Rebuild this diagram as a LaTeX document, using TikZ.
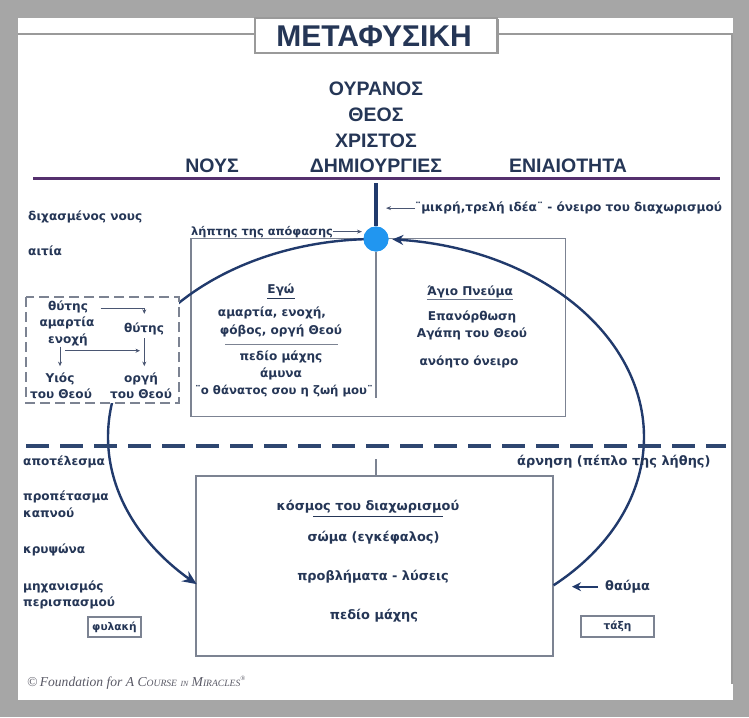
\documentclass[tikz,border=0pt]{standalone}
\usepackage{fontspec}
\setmainfont{DejaVu Sans}
\newfontfamily\hdfont{Liberation Sans}
\newfontfamily\cpfont{Liberation Serif}
\usetikzlibrary{arrows.meta}
\definecolor{navy}{HTML}{253656}
\definecolor{bggray}{HTML}{A6A6A6}
\definecolor{framegray}{HTML}{9A9A9A}
\definecolor{boxgray}{HTML}{7C8392}
\definecolor{purp}{HTML}{55306E}
\definecolor{dashnavy}{HTML}{2E4670}
\definecolor{cblue}{HTML}{2196F0}
\definecolor{curvenavy}{HTML}{213A6C}
\definecolor{arrgray}{HTML}{4A5672}
\definecolor{cpgray}{HTML}{5A5A66}
\begin{document}
\begin{tikzpicture}[x=1pt,y=-1pt,
  lbl/.style={font=\bfseries\fontsize{12.1}{14}\selectfont, text=navy, inner sep=0pt},
  lblc/.style={lbl, anchor=base},
  lblw/.style={lbl, anchor=base west},
  biglbl/.style={font=\bfseries\fontsize{12.9}{15}\selectfont},
  smlbl/.style={font=\bfseries\fontsize{11.4}{13}\selectfont},
  hdr/.style={font=\hdfont\bfseries\fontsize{19.5}{22}\selectfont, text=navy, inner sep=0pt, anchor=base},
  graybox/.style={draw=boxgray, line width=1.6pt},
  smallbox/.style={draw=boxgray, line width=1.2pt, fill=white, inner sep=0pt, font=\bfseries\fontsize{10.6}{12}\selectfont, text=navy},
  darrow/.style={draw=arrgray, line width=1pt, -{Stealth[length=4.5pt,width=4pt]}},
  larrow/.style={draw=arrgray, line width=1pt, -{Stealth[length=5pt,width=4pt]}},
  curve/.style={draw=curvenavy, line width=2.4pt}
]
\useasboundingbox (0,0) rectangle (749,717);
\fill[bggray] (0,0) rectangle (749,717);
\fill[white] (18,18) rectangle (733,700);
% frame
\draw[framegray, line width=1.2pt] (18,34) -- (732,34) -- (732,684);

% title
\fill[gray!80] (256.5,19.5) rectangle (499,54.5);
\node[draw=framegray, line width=1.2pt, fill=white, minimum width=242, minimum height=35, inner sep=0pt] (titlebox) at (376,35.5) {};
\node[font=\hdfont\bfseries\fontsize{30}{32}\selectfont, text=navy, inner sep=0pt, anchor=base] (title) at (374,47) {ΜΕΤΑΦΥΣΙΚΗ};

% header words
\node[hdr] (ouranos) at (376,95) {ΟΥΡΑΝΟΣ};
\node[hdr] (theos) at (376,121) {ΘΕΟΣ};
\node[hdr] (christos) at (376,147) {ΧΡΙΣΤΟΣ};
\node[hdr] (nous) at (212,172) {ΝΟΥΣ};
\node[hdr] (dimiourgies) at (376,172) {ΔΗΜΙΟΥΡΓΙΕΣ};
\node[hdr] (eniaiotita) at (568,172) {ΕΝΙΑΙΟΤΗΤΑ};

% purple line
\coordinate (pl) at (33,178);
\coordinate (pr) at (720,178);
\draw[purp, line width=3pt] (pl) -- (pr);

% upper box
\draw[graybox] (191,238.5) rectangle (565.5,416.5);
\node[inner sep=0pt] (upperbox) at (378,327.5) {};

% lower box
\draw[graybox] (196,476) rectangle (553,656);
\node[inner sep=0pt] (lowerbox) at (374.5,566) {};

% circle
\node[circle, fill=cblue, minimum size=25pt, inner sep=0pt] (dot) at (376,239) {};

% divider
\coordinate (divend) at (376,398);
\draw[boxgray, line width=1.2pt] (dot.south) -- (divend);
\coordinate (vtop) at (376,183);
\draw[curvenavy, line width=3.5pt] (vtop) -- (dot.north);

% big curves
\draw[curve, {Stealth[length=14pt,width=12pt]}-] plot[domain=132:269, samples=90, smooth, variable=\t] ({376+268*cos(\t)},{437+198*sin(\t)});
\draw[curve, {Stealth[length=11pt,width=10pt]}-] plot[domain=-86.5:48.5, samples=90, smooth, variable=\t] ({376+268*cos(\t)},{437+198*sin(\t)});

% dashed box
\draw[boxgray, line width=1.8pt, dash pattern=on 10pt off 5pt, fill=white] (26,297) rectangle (179,403);

% dashed separator
\coordinate (dl) at (26,446);
\coordinate (dr) at (726,446);
\draw[dashnavy, line width=3.5pt, dash pattern=on 23pt off 11pt] (dl) -- (dr);
\coordinate (stemtop) at (376,459);
\draw[boxgray, line width=1.2pt] (stemtop) -- (376,476);

% redraw circle on top
\node[circle, fill=cblue, minimum size=25pt, inner sep=0pt] (dot2) at (376,239) {};

% labels near top
\node[lblw] (mikri) at (415,211.7) {¨μικρή,τρελή ιδέα¨ - όνειρο του διαχωρισμού};
\coordinate (mikritip) at (386,209);
\draw[larrow] (mikri.west) -- (mikri.west -| mikritip);
\node[lblw, smlbl] (liptis) at (191,235) {λήπτης της απόφασης};
\draw[larrow] (liptis.east) -- (liptis.east -| 362,0);
\node[lblw] (dichasmenos) at (28,220) {διχασμένος νους};
\node[lblw] (aitia) at (28,255) {αιτία};

% upper box left text
\node[lblc] (ego) at (281,293.3) {Εγώ};
\draw[navy, line width=0.9pt] ([yshift=-5pt]ego.base west) -- ([yshift=-5pt]ego.base east);
\node[lblc] (amartia) at (272,316.7) {αμαρτία, ενοχή,};
\node[lblc] (fovos) at (281,334) {φόβος, οργή Θεού};
\coordinate (rulel) at (225,344.3);
\draw[boxgray, line width=1pt] (rulel) -- (338,344.3);
\node[lblc] (pedio) at (281,360) {πεδίο μάχης};
\node[lblc] (amyna) at (281,377) {άμυνα};
\node[lblc, font=\bfseries\fontsize{11.7}{14}\selectfont] (thanatos) at (284,394) {¨ο θάνατος σου η ζωή μου¨};

% upper box right text
\node[lblc] (agio) at (470,295) {Άγιο Πνεύμα};
\draw[navy!70, line width=0.9pt] ([yshift=-4pt]agio.base west) -- ([yshift=-4pt]agio.base east);
\node[lblc] (epanorthosi) at (472,320) {Επανόρθωση};
\node[lblc] (agapi) at (472,337) {Αγάπη του Θεού};
\node[lblc] (anoito) at (469,365) {ανόητο όνειρο};

% dashed box content
\node[lblc] (thyt1) at (68,310) {θύτης};
\node[lblc] (amart2) at (67,326.7) {αμαρτία};
\node[lblc] (enochi) at (68,343) {ενοχή};
\node[lblc] (thyt2) at (144,332.7) {θύτης};
\node[lblc] (yios) at (60,382) {Υιός};
\node[lblc] (touth1) at (61,398) {του Θεού};
\node[lblc] (orgi) at (141,382) {οργή};
\node[lblc] (touth2) at (141,398) {του Θεού};
\coordinate (tcorner) at (100.7,308.3);
\draw[darrow] (tcorner) -| ([xshift=0.3pt,yshift=9pt]thyt2.north);
\draw[darrow] ([yshift=-1pt]yios.north |- enochi.south) -- ([yshift=6pt]yios.north);
\coordinate (hstart) at (65,350.7);
\coordinate (hend) at (140,350.7);
\draw[darrow] (hstart) -- (hend);
\draw[darrow, shorten <=3pt] ([xshift=0.3pt]thyt2.south) -- ([xshift=3.3pt,yshift=6pt]orgi.north);

% lower left labels
\node[lblw] (apotelesma) at (23,465) {αποτέλεσμα};
\node[lblw] (propetasma) at (23,500) {προπέτασμα};
\node[lblw] (kapnou) at (23,517.7) {καπνού};
\node[lblw] (krypsona) at (23,553) {κρυψώνα};
\node[lblw] (michanismos) at (23,590) {μηχανισμός};
\node[lblw] (perispasmou) at (23,606.7) {περισπασμού};
\node[smallbox, minimum width=53pt, minimum height=20pt] (fylaki) at (114.5,627) {φυλακή};

% lower box text
\node[lblc, biglbl] (kosmos) at (368,510) {κόσμος του διαχωρισμού};
\draw[navy, line width=0.9pt] (313,516.7) -- (443,516.7);
\node[lblc, biglbl] (soma) at (373.5,541.7) {σώμα (εγκέφαλος)};
\node[lblc, biglbl] (provlimata) at (373,580) {προβλήματα - λύσεις};
\node[lblc, biglbl] (pedio2) at (374,619) {πεδίο μάχης};

% right labels
\node[lblw, biglbl] (arnisi) at (517,465) {άρνηση (πέπλο της λήθης)};
\node[lblw, biglbl] (thavma) at (605,590) {θαύμα};
\coordinate (thtip) at (572,586.7);
\draw[draw=curvenavy, line width=2.4pt, -{Stealth[length=9pt,width=9pt]}] (598,586.7) -- (thtip);
\node[smallbox, minimum width=73pt, minimum height=21pt] (taxi) at (617.5,626.5) {τάξη};

% copyright
\node[anchor=base west, inner sep=0pt, font=\cpfont\itshape\fontsize{13.6}{16}\selectfont, text=cpgray] (copyr) at (27,686) {©\,Foundation for A C{\fontsize{9.6}{11}\selectfont OURSE} {\fontsize{7.8}{9}\selectfont IN} M{\fontsize{9.6}{11}\selectfont IRACLES}\textsuperscript{\fontsize{6.5}{8}\selectfont ®}};
\end{tikzpicture}
\end{document}
